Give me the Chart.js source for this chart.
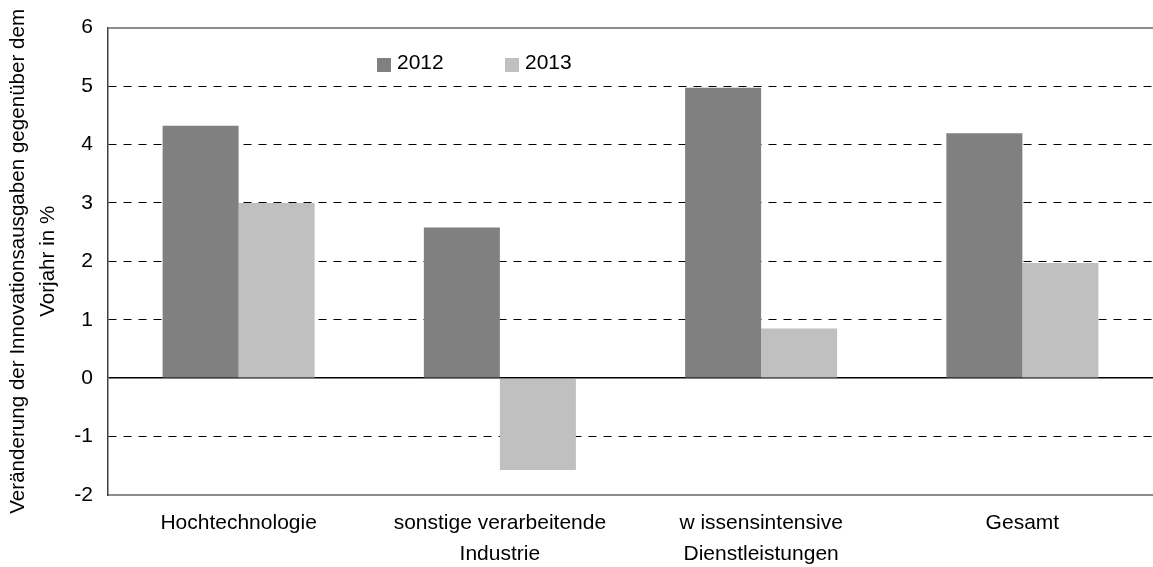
<!DOCTYPE html>
<html>
<head>
<meta charset="utf-8">
<style>
  html, body { margin: 0; padding: 0; background: #fff; }
  #wrap { width: 1153px; height: 567px; }
</style>
<script src="https://cdn.jsdelivr.net/npm/chart.js@4/dist/chart.umd.min.js"></script>
</head>
<body>
<div id="wrap"><canvas id="c" width="1153" height="567"></canvas></div>
<script>
const categories = [
  'Hochtechnologie',
  ['sonstige verarbeitende', 'Industrie'],
  ['w issensintensive', 'Dienstleistungen'],
  'Gesamt'
];
const seriesNames = ['2012', '2013'];
const values2012 = [4.32, 2.58, 4.97, 4.19];
const values2013 = [3.00, -1.57, 0.85, 1.97];
const seriesColors = ['#808080', '#c0c0c0'];
const yTitle = ['Veränderung der Innovationsausgaben gegenüber dem', 'Vorjahr in %'];
const yMin = -2, yMax = 6, yStep = 1;

const FONT = "'Liberation Sans', Arial, sans-serif";

const legendPlugin = {
  id: 'insideLegend',
  afterDraw(chart) {
    const ctx = chart.ctx;
    const items = [{x: 377, y: 58}, {x: 505, y: 58}];
    ctx.save();
    ctx.font = '21px ' + FONT;
    ctx.textBaseline = 'middle';
    ctx.textAlign = 'left';
    chart.data.datasets.forEach((ds, i) => {
      const p = items[i];
      ctx.fillStyle = ds.backgroundColor;
      ctx.fillRect(p.x, p.y, 14, 14);
      ctx.fillStyle = '#000';
      ctx.fillText(ds.label, p.x + 20, p.y + 5);
    });
    ctx.restore();
  }
};

new Chart(document.getElementById('c'), {
  type: 'bar',
  data: {
    labels: categories,
    datasets: [
      { label: seriesNames[0], data: values2012, backgroundColor: seriesColors[0], borderWidth: 0 },
      { label: seriesNames[1], data: values2013, backgroundColor: seriesColors[1], borderWidth: 0 }
    ]
  },
  options: {
    responsive: false,
    animation: false,
    devicePixelRatio: 1,
    layout: { padding: { top: 25, right: 0, left: 0, bottom: 0 } },
    datasets: { bar: { categoryPercentage: 0.582, barPercentage: 1.0 } },
    plugins: { legend: { display: false }, tooltip: { enabled: false } },
    scales: {
      x: {
        grid: { display: false, drawTicks: false },
        border: { display: true, color: '#8c8c8c', width: 2 },
        ticks: {
          color: '#000',
          padding: 13,
          maxRotation: 0,
          autoSkip: false,
          font: { family: FONT, size: 21, lineHeight: 1.48 }
        },
        afterFit(scale) { scale.height = 72; }
      },
      y: {
        min: yMin, max: yMax,
        ticks: {
          stepSize: yStep,
          color: '#000',
          padding: 15,
          font: { family: FONT, size: 21 }
        },
        grid: {
          drawTicks: false,
          color: ctx => {
            const v = ctx.tick ? ctx.tick.value : null;
            if (v === yMax || v === yMin) return '#8c8c8c';
            return '#000';
          },
          lineWidth: ctx => {
            const v = ctx.tick ? ctx.tick.value : null;
            if (v === 0) return 1.5;
            if (v === yMax || v === yMin) return 2;
            return 1;
          }
        },
        border: {
          display: true, color: '#404040', width: 1.5,
          dash: ctx => {
            const v = ctx.tick ? ctx.tick.value : null;
            if (v === null || v === 0 || v === yMax || v === yMin) return [];
            return [8, 7];
          }
        },
        title: {
          display: true,
          text: yTitle,
          color: '#000',
          padding: { top: 4, bottom: 0 },
          font: { family: FONT, size: 20.6, lineHeight: 1.42 }
        },
        afterFit(scale) { scale.width = 108; }
      }
    }
  },
  plugins: [legendPlugin]
});
</script>
</body>
</html>
